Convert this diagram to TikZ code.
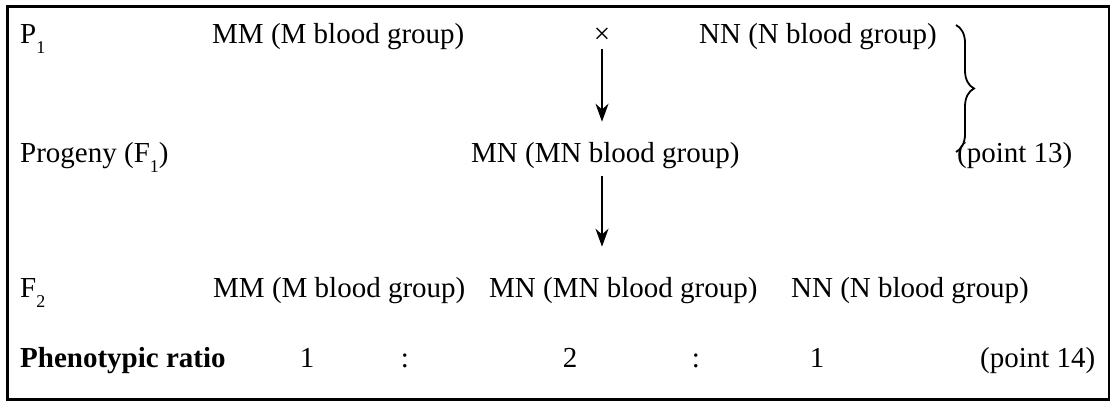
\documentclass[tikz,border=0pt]{standalone}
\usepackage{fontspec}
\setmainfont{Liberation Serif}
\usetikzlibrary{arrows.meta,positioning,decorations.pathreplacing}
\tikzstyle{txt}=[anchor=base west,inner sep=0pt,font=\fontsize{29}{34}\selectfont]
\tikzstyle{arrow}=[line width=2pt,-{Stealth[length=18pt,width=13pt]},draw=black]
\newcommand{\lowsub}[1]{\raisebox{-10pt}{\fontsize{18}{18}\selectfont #1}}

\begin{document}
\begin{tikzpicture}[x=1pt,y=-1pt]
    \useasboundingbox (0,0) rectangle (1115,403);
    \draw[line width=2.5pt] (7.5,6.5) rectangle (1109,399.5);

    % parents
    \node (P1) [txt] at (20,44) {P\lowsub{1}};
    \node (MMp) [txt] at (212,44) {MM (M blood group)};
    \node (cross) [txt,anchor=base] at (602,44) {×};
    \node (NNp) [txt] at (699,44) {NN (N blood group)};

    % F1
    \node (F1) [txt] at (20,163) {Progeny (F\lowsub{1})};
    \node (MNf1) [txt] at (471,163) {MN (MN blood group)};
    \node (pt13) [txt] at (957,163) {(point 13)};

    % F2
    \node (F2) [txt] at (20,297) {F\lowsub{2}};
    \node (MMf2) [txt] at (213,297) {MM (M blood group)};
    \node (MNf2) [txt] at (489,297) {MN (MN blood group)};
    \node (NNf2) [txt] at (791,297) {NN (N blood group)};

    % ratio
    \node (ratio) [txt] at (20,367) {\bfseries Phenotypic ratio};
    \node (r1) [txt,anchor=base] at (307,367) {1};
    \node (c1) [txt,anchor=base] at (405,367) {:};
    \node (r2) [txt,anchor=base] at (570,367) {2};
    \node (c2) [txt,anchor=base] at (696,367) {:};
    \node (r3) [txt,anchor=base] at (817,367) {1};
    \node (pt14) [txt] at (980,367) {(point 14)};

    \draw[arrow,shorten <=5pt,shorten >=21pt] (cross.south) -- (cross |- MNf1.north);
    \draw[arrow,shorten <=7pt,shorten >=30pt] (cross |- MNf1.south) -- (cross |- MNf2.north);

    \coordinate (bt) at (956,25);
    \coordinate (bb) at (956,152);
    \draw[decorate,decoration={brace,amplitude=18pt},line width=1.8pt] (bt) -- (bb);
\end{tikzpicture}
\end{document}
